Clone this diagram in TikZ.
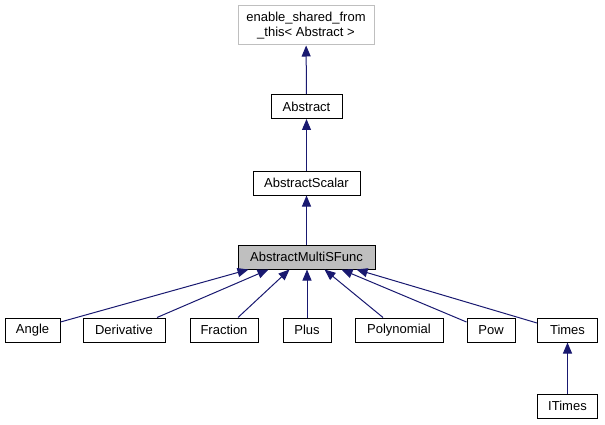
\documentclass[tikz,border=0pt]{standalone}
\usepackage{fontspec}
\setmainfont{Liberation Sans}
\usetikzlibrary{arrows.meta}
\definecolor{navyedge}{HTML}{191970}
\definecolor{boxgray}{HTML}{BFBFBF}
\begin{document}
\begin{tikzpicture}[x=1pt, y=-1pt, font=\fontsize{13}{14.5}\selectfont,
  cls/.style={draw=black, line width=1pt, inner sep=0pt, minimum height=24pt, align=center},
  edge/.style={navyedge, line width=1pt, -{Triangle[length=11pt,width=9pt]}}]
  \useasboundingbox (0,0) rectangle (605,425);
  % base classes
  \node[cls, draw=boxgray, minimum width=136pt, minimum height=39pt] (esft) at (306,25.5)
    {enable\_shared\_from\\\_this< Abstract >};
  \node[cls, minimum width=71pt]  (abs)    at (306.5,106.5) {Abstract};
  \node[cls, minimum width=107pt] (scalar) at (306.5,183)   {AbstractScalar};
  \node[cls, fill=boxgray, minimum width=137pt] (multi) at (306.5,257) {AbstractMultiSFunc};
  % derived classes
  \node[cls, minimum width=55pt] (angle) at (32.5,330)  {Angle};
  \node[cls, minimum width=82pt] (deriv) at (124,330)   {Derivative};
  \node[cls, minimum width=68pt] (frac)  at (224,330)   {Fraction};
  \node[cls, minimum width=48pt] (plus)  at (307,330)   {Plus};
  \node[cls, minimum width=88pt] (poly)  at (399,330)   {Polynomial};
  \node[cls, minimum width=48pt] (pow)   at (491,330)   {Pow};
  \node[cls, minimum width=60pt] (times) at (567.5,330) {Times};
  \node[cls, minimum width=60pt] (itimes) at (567.5,406) {ITimes};
  \draw[edge] (abs) -- (esft);
  \draw[edge] (scalar) -- (abs);
  \draw[edge] (multi) -- (scalar);
  \draw[edge] ([yshift=8pt]angle.east) -- ([xshift=-58pt]multi.south);
  \draw[edge] ([xshift=33pt]deriv.north) -- ([xshift=-38pt]multi.south);
  \draw[edge] ([xshift=14pt]frac.north) -- ([xshift=-17pt]multi.south);
  \draw[edge] (plus) -- (plus |- multi.south);
  \draw[edge] ([xshift=-16pt]poly.north) -- ([xshift=18pt]multi.south);
  \draw[edge] ([yshift=8pt]pow.west) -- ([xshift=35pt]multi.south);
  \draw[edge] ([yshift=7pt]times.west) -- ([xshift=50pt]multi.south);
  \draw[edge] (itimes) -- (times);
\end{tikzpicture}
\end{document}
